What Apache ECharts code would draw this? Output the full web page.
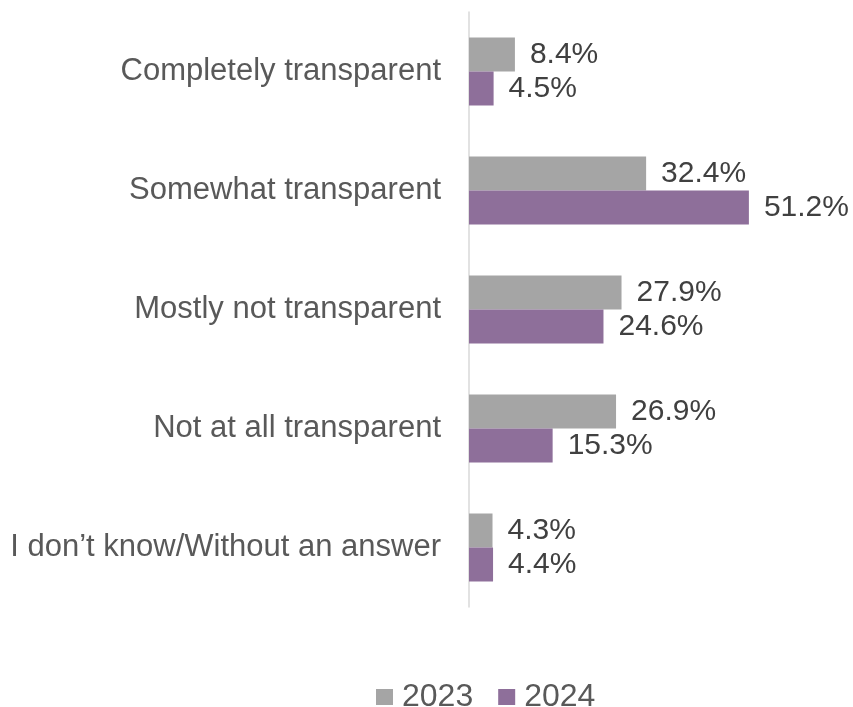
<!DOCTYPE html>
<html>
<head>
<meta charset="utf-8">
<script src="https://cdn.jsdelivr.net/npm/echarts@6/dist/echarts.min.js"></script>
<style>html,body{margin:0;padding:0;background:#fff}#c{width:853px;height:707px}</style>
</head>
<body>
<div id="c"></div>
<script>
const categories = ["Completely transparent", "Somewhat transparent", "Mostly not transparent", "Not at all transparent", "I don\u2019t know/Without an answer"];
const seriesNames = ["2023", "2024"];
const values2023 = [8.4, 32.4, 27.9, 26.9, 4.3];
const values2024 = [4.5, 51.2, 24.6, 15.3, 4.4];
const colors = ["#A5A5A5", "#8E6F9A"];

const font = "'Liberation Sans', Arial, sans-serif";
const chart = echarts.init(document.getElementById('c'), null, {renderer: 'canvas'});
const mkSeries = (name, data, color) => ({
  name: name,
  type: 'bar',
  data: data,
  barWidth: 34,
  barGap: '0%',
  itemStyle: {color: color},
  label: {
    show: true,
    position: 'right',
    distance: 15,
    formatter: p => p.value.toFixed(1) + '%',
    color: '#404040',
    fontSize: 30,
    fontFamily: font
  }
});
chart.setOption({
  animation: false,
  backgroundColor: '#fff',
  grid: {left: 469, width: 328, top: 12, height: 595, containLabel: false},
  xAxis: {
    type: 'value', min: 0, max: 60,
    show: false
  },
  yAxis: {
    type: 'category',
    data: categories,
    inverse: true,
    axisLine: {show: true, lineStyle: {color: '#D9D9D9', width: 1.5}},
    axisTick: {show: false},
    axisLabel: {margin: 28, color: '#595959', fontSize: 31, fontFamily: font}
  },
  legend: {
    data: seriesNames,
    left: 376,
    top: 681,
    padding: 0,
    itemWidth: 17,
    itemHeight: 16,
    itemGap: 25,
    icon: 'rect',
    textStyle: {color: '#595959', fontSize: 32, lineHeight: 30, fontFamily: font, padding: [0, 0, 0, 4]}
  },
  series: [
    mkSeries(seriesNames[0], values2023, colors[0]),
    mkSeries(seriesNames[1], values2024, colors[1])
  ]
});
</script>
</body>
</html>
